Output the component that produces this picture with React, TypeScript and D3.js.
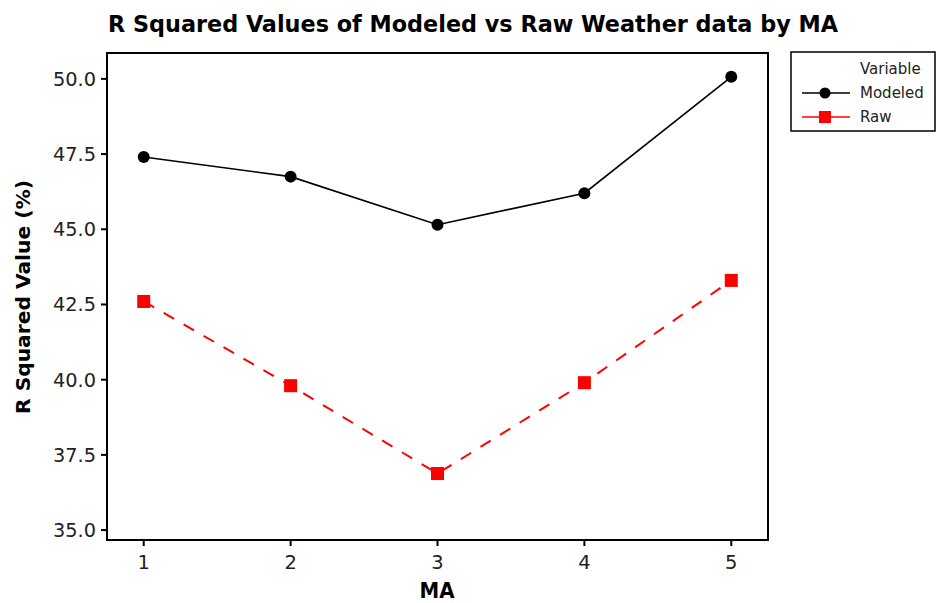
import React from "react";
import * as d3 from "d3";

const maValues = [1, 2, 3, 4, 5];
const modeled = [47.4, 46.75, 45.15, 46.2, 50.07];
const raw = [42.6, 39.8, 36.88, 39.9, 43.3];
const yTicks = [35.0, 37.5, 40.0, 42.5, 45.0, 47.5, 50.0];
const title = "R Squared Values of Modeled vs Raw Weather data by MA";

export default function App() {
  const W = 937, H = 603;
  const left = 107, right = 768, top = 53, bottom = 540;
  const x = d3.scaleLinear().domain([0.75, 5.25]).range([left, right]);
  const y = d3.scaleLinear().domain([34.67, 50.86]).range([bottom, top]);
  const line = d3.line<number>().x((_, i) => x(maValues[i])).y((d) => y(d));
  const font = "'DejaVu Sans', Verdana, sans-serif";
  const bold = "'DejaVu Sans Condensed', 'DejaVu Sans', sans-serif";
  return (
    <svg width={W} height={H} style={{ position: "absolute", left: 0, top: 0, background: "#fff" }}>
      <rect x={0} y={0} width={W} height={H} fill="#fff" />
      <text x={108} y={32} fontFamily={bold} fontWeight="bold" fontSize={23} textLength={730} lengthAdjust="spacingAndGlyphs">{title}</text>
      <rect x={left} y={top} width={right - left} height={bottom - top} fill="none" stroke="#000" strokeWidth={2} />
      {yTicks.map((t) => (
        <g key={t}>
          <line x1={left - 6} x2={left} y1={y(t)} y2={y(t)} stroke="#000" strokeWidth={2} />
          <text x={left - 11} y={y(t)} dy="0.36em" textAnchor="end" fontFamily={font} fontSize={19.5} fill="#222" textLength={43} lengthAdjust="spacingAndGlyphs">{t.toFixed(1)}</text>
        </g>
      ))}
      {maValues.map((m) => (
        <g key={m}>
          <line x1={x(m)} x2={x(m)} y1={bottom} y2={bottom + 6} stroke="#000" strokeWidth={2} />
          <text x={x(m)} y={bottom + 29} textAnchor="middle" fontFamily={font} fontSize={19.5} fill="#222">{m}</text>
        </g>
      ))}
      <text x={437} y={598} textAnchor="middle" fontFamily={bold} fontWeight="bold" fontSize={21} textLength={35} lengthAdjust="spacingAndGlyphs">MA</text>
      <text transform={`translate(30,297) rotate(-90)`} textAnchor="middle" fontFamily={bold} fontWeight="bold" fontSize={20} textLength={234} lengthAdjust="spacingAndGlyphs">R Squared Value (%)</text>
      <path d={line(modeled) || ""} fill="none" stroke="#000" strokeWidth={1.6} />
      <path d={line(raw) || ""} fill="none" stroke="#f00" strokeWidth={2} strokeDasharray="12,11" />
      {modeled.map((v, i) => (
        <circle key={"m" + i} cx={x(maValues[i])} cy={y(v)} r={6} fill="#000" />
      ))}
      {raw.map((v, i) => (
        <rect key={"r" + i} x={x(maValues[i]) - 6.5} y={y(v) - 6.5} width={13} height={13} fill="#f00" />
      ))}
      <g>
        <rect x={791} y={52} width={144} height={79} fill="#fff" stroke="#000" strokeWidth={1.5} />
        <text x={860} y={74} fontFamily={font} fontSize={15} fill="#222">Variable</text>
        <line x1={802} x2={850} y1={93} y2={93} stroke="#000" strokeWidth={1.6} />
        <circle cx={825} cy={93} r={5.5} fill="#000" />
        <text x={860} y={98} fontFamily={font} fontSize={15} fill="#222">Modeled</text>
        <line x1={802} x2={850} y1={117} y2={117} stroke="#f00" strokeWidth={1.6} />
        <rect x={819} y={111} width={12} height={12} fill="#f00" />
        <text x={860} y={122} fontFamily={font} fontSize={15} fill="#222">Raw</text>
      </g>
    </svg>
  );
}
